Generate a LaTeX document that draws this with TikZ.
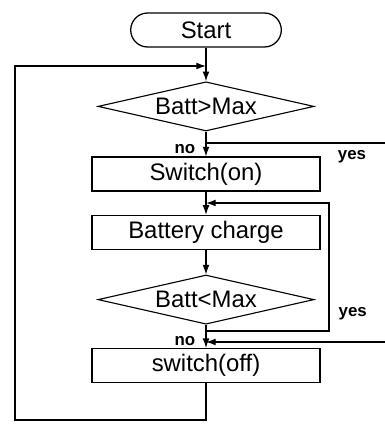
\documentclass[tikz,border=0pt]{standalone}
\usepackage{fontspec}
\setmainfont{Liberation Sans}
\usepackage{tikz}
\usetikzlibrary{arrows.meta, positioning, shapes.geometric, shapes.misc}

\begin{document}
\begin{tikzpicture}[
  term/.style={rounded rectangle, draw, line width=0.9pt,
               minimum width=4.0cm, minimum height=0.85cm,
               font=\fontsize{17}{20}\selectfont},
  decision/.style={diamond, draw, line width=0.8pt, aspect=4.4, inner sep=0pt,
                   minimum width=5.4cm, minimum height=1.23cm,
                   font=\fontsize{17}{20}\selectfont},
  box/.style={rectangle, draw, line width=0.8pt,
              minimum width=5.7cm, minimum height=0.85cm,
              font=\fontsize{17}{20}\selectfont},
  lbl/.style={font=\fontsize{12}{14}\selectfont\bfseries, inner sep=1pt},
  line/.style={line width=0.8pt},
  arr/.style={-{Latex[length=2.4mm, width=1.7mm]}, line width=0.8pt},
]
  \useasboundingbox (0,0) rectangle (9.625,-10.6);

  \node[term]     (start)  at (5.15, -0.75)   {Start};
  \node[decision] (cmax)   at (5.15, -2.66)   {Batt>Max};
  \node[box]      (swon)   at (5.15, -4.35)   {Switch(on)};
  \node[box]      (charge) at (5.15, -5.81)   {Battery charge};
  \node[decision] (cmin)   at (5.15, -7.49)   {Batt<Max};
  \node[box]      (swoff)  at (5.15, -9.14)   {switch(off)};

  % junctions and free ends
  \coordinate (mtop)  at (5.15, -1.65);
  \coordinate (jmax)  at (5.15, -3.575);
  \coordinate (emax)  at (9.625, -3.575);
  \coordinate (mchg)  at (5.15, -5.075);
  \coordinate (rchg)  at (8.225, -5.075);
  \coordinate (jmin)  at (5.15, -8.275);
  \coordinate (mon)   at (5.15, -8.55);
  \coordinate (eoff)  at (9.625, -8.55);
  \coordinate (bleft) at (0.375, -10.5);

  \draw[arr]  (start.south) -- (cmax.north);
  \draw[arr]  (cmax.south) -- (swon.north);
  \draw[line] (jmax) -- (emax);
  \draw[arr]  (swon.south) -- (charge.north);
  \draw[arr]  (charge.south) -- (cmin.north);
  \draw[arr]  (cmin.south) -- (swoff.north);
  \draw[arr]  (jmin) -| (rchg) -- (mchg);
  \draw[arr]  (eoff) -- (mon);
  \draw[arr]  (swoff.south) |- (bleft) |- (mtop);

  \node[lbl, anchor=east] at (4.92, -3.72) {no};
  \node[lbl] at (8.8, -3.92) {yes};
  \node[lbl] at (8.82, -7.85) {yes};
  \node[lbl, anchor=east] at (4.92, -8.53) {no};
\end{tikzpicture}
\end{document}
